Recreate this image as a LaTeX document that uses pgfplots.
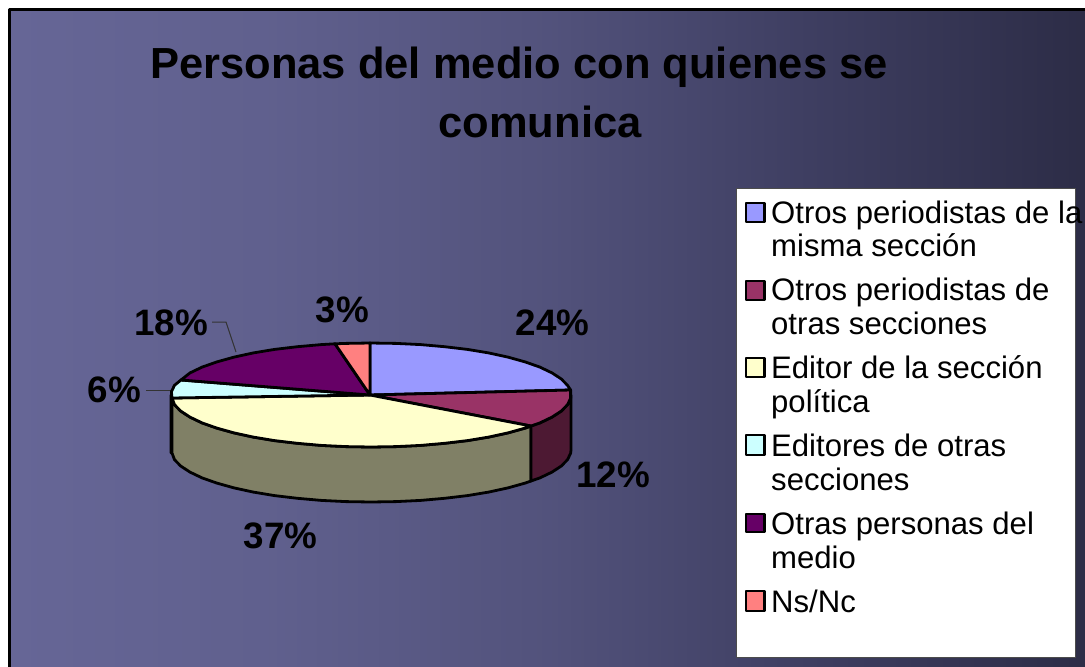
\documentclass[border=0pt]{standalone}
\usepackage{pgfplots}
\pgfplotsset{compat=1.18}
\usepackage{fontspec}
\setmainfont{Liberation Sans}
\definecolor{a1}{HTML}{9999FF}
\definecolor{a2}{HTML}{993366}
\definecolor{a2s}{HTML}{4D1933}
\definecolor{a3}{HTML}{FFFFCC}
\definecolor{a3s}{HTML}{808066}
\definecolor{a4}{HTML}{CCFFFF}
\definecolor{a4s}{HTML}{668080}
\definecolor{a5}{HTML}{660066}
\definecolor{a6}{HTML}{FF8080}
\pgfdeclarehorizontalshading{bgshade}{100bp}{
 rgb(0bp)=(0.400,0.400,0.590);
 rgb(25bp)=(0.400,0.400,0.590);
 rgb(37bp)=(0.376,0.376,0.555);
 rgb(50bp)=(0.322,0.322,0.485);
 rgb(62bp)=(0.243,0.243,0.380);
 rgb(75bp)=(0.173,0.173,0.275);
 rgb(100bp)=(0.173,0.173,0.275)}
\newcommand{\ttl}{\fontsize{43.5}{50}\selectfont\bfseries}
\newcommand{\lab}{\fontsize{36.8}{42}\selectfont\bfseries}
\newcommand{\leg}{\fontsize{31.1}{36}\selectfont}
\begin{document}
\begin{tikzpicture}
\begin{axis}[
  width=1085pt, height=667pt, scale only axis, hide axis,
  xmin=0, xmax=1085, ymin=0, ymax=667, y dir=reverse, clip=true,
  every axis plot/.append style={mark=none, line width=2.8pt, line join=round}]
% page and background
\addplot[draw=none, fill=white] coordinates {(0,0)(1085,0)(1085,667)(0,667)} -- cycle;
\addplot[draw=none, shade, shading=bgshade] coordinates {(9,9)(1090,9)(1090,670)(9,670)} -- cycle;
\addplot[black, line width=3pt] coordinates {(9,680)(9,9)(1095,9)};
% leader lines
\addplot[line width=1pt, color=black!80] coordinates {(212,322)(226,322)(236,352)};
\addplot[line width=1pt, color=black!80] coordinates {(146,390)(172,390)};
% sides
\addplot[draw=black, fill=a4s] coordinates {(172,398)(171,395)(171,453)(172,453)} -- cycle;
\addplot[draw=black, fill=a3s] coordinates {(531,426)(525.1,428.1)(507.9,432.9)(488.6,437.1)(467.4,440.6)(444.6,443.3)(420.7,445.4)(396.1,446.6)(371,447)(345.9,446.6)(321.3,445.4)(297.4,443.3)(274.6,440.6)(253.4,437.1)(234.1,432.9)(216.9,428.1)(202.1,422.9)(190,417.1)(180.8,411.1)(174.5,404.7)(172,398)(172,453)(174.5,459.7)(180.8,466.1)(190,472.1)(202.1,477.9)(216.9,483.1)(234.1,487.9)(253.4,492.1)(274.6,495.6)(297.4,498.3)(321.3,500.4)(345.9,501.6)(371,502)(396.1,501.6)(420.7,500.4)(444.6,498.3)(467.4,495.6)(488.6,492.1)(507.9,487.9)(525.1,483.1)(531,481)} -- cycle;
\addplot[draw=black, fill=a2s] coordinates {(571,395)(570.6,398.3)(567.5,404.7)(561.2,411.1)(552,417.1)(539.9,422.9)(531,426)(531,481)(539.9,477.9)(552,472.1)(561.2,466.1)(567.5,459.7)(570.6,453.3)(571,450)} -- cycle;
% top slices
\addplot[draw=black, fill=a1] coordinates {(370,395)(370,343)(396.1,343.4)(420.7,344.6)(444.6,346.7)(467.4,349.4)(488.6,352.9)(507.9,357.1)(525.1,361.9)(539.9,367.1)(552,372.9)(561.2,378.9)(567.5,385.3)(570.6,390)} -- cycle;
\addplot[draw=black, fill=a2] coordinates {(370,395)(570.6,390)(570.6,398.3)(567.5,404.7)(561.2,411.1)(552,417.1)(539.9,422.9)(531,426)} -- cycle;
\addplot[draw=black, fill=a3] coordinates {(370,395)(531,426)(525.1,428.1)(507.9,432.9)(488.6,437.1)(467.4,440.6)(444.6,443.3)(420.7,445.4)(396.1,446.6)(371,447)(345.9,446.6)(321.3,445.4)(297.4,443.3)(274.6,440.6)(253.4,437.1)(234.1,432.9)(216.9,428.1)(202.1,422.9)(190,417.1)(180.8,411.1)(174.5,404.7)(172,398)} -- cycle;
\addplot[draw=black, fill=a4] coordinates {(370,395)(172,398)(171.4,391.7)(174.5,385.3)(181,380)} -- cycle;
\addplot[draw=black, fill=a5] coordinates {(370,395)(181,380)(190,372.9)(202.1,367.1)(216.9,361.9)(234.1,357.1)(253.4,352.9)(274.6,349.4)(297.4,346.7)(321.3,344.6)(335,343.8)} -- cycle;
\addplot[draw=black, fill=a6] coordinates {(370,395)(335,343.8)(345.9,343.4)(370,343)} -- cycle;
% legend
\addplot[line width=1pt, draw=black!70, fill=white] coordinates {(736,188)(1075,188)(1075,657)(736,657)} -- cycle;
\addplot[draw=black, fill=a1] coordinates {(746,203)(764.5,203)(764.5,222)(746,222)} -- cycle;
\addplot[draw=black, fill=a2] coordinates {(746,281)(764.5,281)(764.5,300)(746,300)} -- cycle;
\addplot[draw=black, fill=a3] coordinates {(746,358)(764.5,358)(764.5,377)(746,377)} -- cycle;
\addplot[draw=black, fill=a4] coordinates {(746,435)(764.5,435)(764.5,455)(746,455)} -- cycle;
\addplot[draw=black, fill=a5] coordinates {(746,514)(764.5,514)(764.5,532)(746,532)} -- cycle;
\addplot[draw=black, fill=a6] coordinates {(746,591)(764.5,591)(764.5,611)(746,611)} -- cycle;
% title
\node[anchor=base, inner sep=0pt] at (axis cs:519,78) {\ttl Personas del medio con quienes se};
\node[anchor=base, inner sep=0pt] at (axis cs:540,137) {\ttl comunica};
% data labels
\node[anchor=base, inner sep=0pt] at (axis cs:552.5,335) {\lab 24\%};
\node[anchor=base, inner sep=0pt] at (axis cs:613,487) {\lab 12\%};
\node[anchor=base, inner sep=0pt] at (axis cs:280.5,548) {\lab 37\%};
\node[anchor=base, inner sep=0pt] at (axis cs:114.5,402) {\lab 6\%};
\node[anchor=base, inner sep=0pt] at (axis cs:171,335) {\lab 18\%};
\node[anchor=base, inner sep=0pt] at (axis cs:342.5,322) {\lab 3\%};
% legend text
\node[anchor=base west, inner sep=0pt] at (axis cs:771,223) {\leg Otros periodistas de la};
\node[anchor=base west, inner sep=0pt] at (axis cs:771,256) {\leg misma sección};
\node[anchor=base west, inner sep=0pt] at (axis cs:771,300) {\leg Otros periodistas de};
\node[anchor=base west, inner sep=0pt] at (axis cs:771,334) {\leg otras secciones};
\node[anchor=base west, inner sep=0pt] at (axis cs:771,378) {\leg Editor de la sección};
\node[anchor=base west, inner sep=0pt] at (axis cs:771,412) {\leg política};
\node[anchor=base west, inner sep=0pt] at (axis cs:771,456) {\leg Editores de otras};
\node[anchor=base west, inner sep=0pt] at (axis cs:771,490) {\leg secciones};
\node[anchor=base west, inner sep=0pt] at (axis cs:771,534) {\leg Otras personas del};
\node[anchor=base west, inner sep=0pt] at (axis cs:771,568) {\leg medio};
\node[anchor=base west, inner sep=0pt] at (axis cs:771,612) {\leg Ns/Nc};
\end{axis}
\end{tikzpicture}
\end{document}
